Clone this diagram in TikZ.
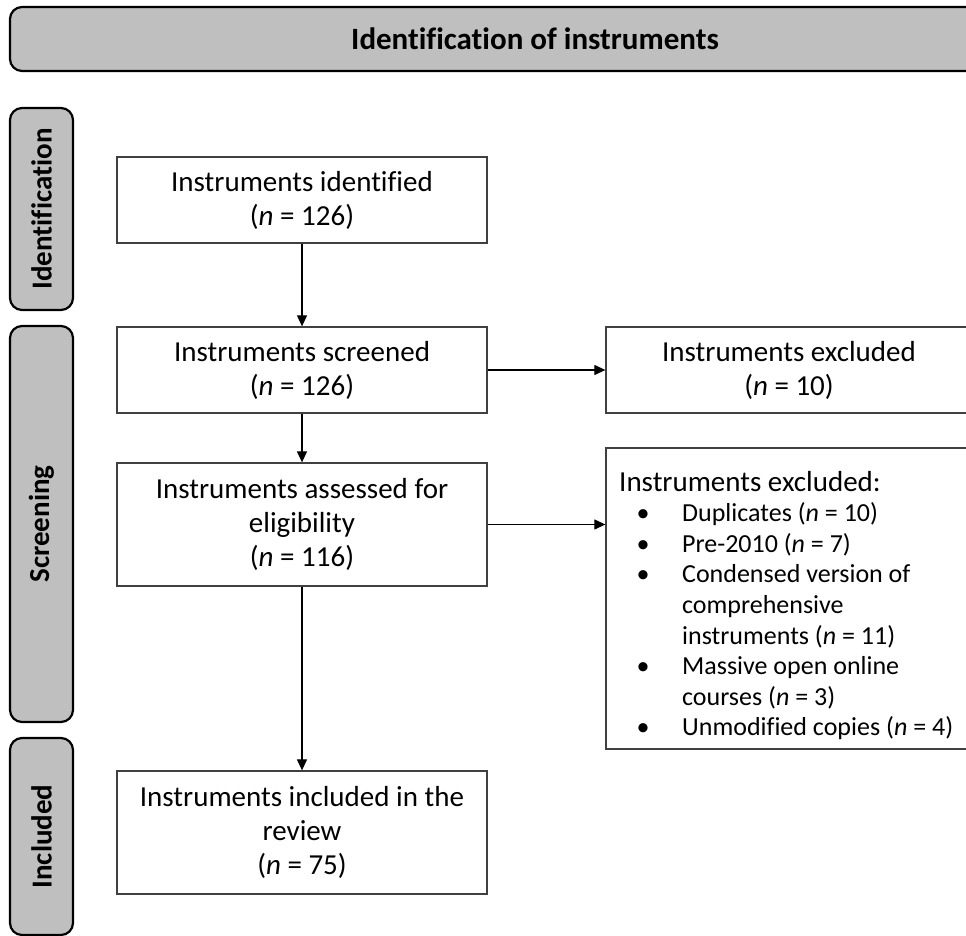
\documentclass[tikz,border=0pt]{standalone}
\usepackage{fontspec}
\setmainfont{Carlito}[Ligatures=NoCommon]
\usetikzlibrary{arrows.meta}
\definecolor{phasegray}{HTML}{BFBFBF}
\definecolor{edgegray}{HTML}{404040}
\tikzset{
  phasebox/.style={draw=black, line width=2.2pt, fill=phasegray, rounded corners=12pt, inner sep=0pt, font=\fontsize{29}{34}\selectfont\bfseries},
  stagebox/.style={draw=edgegray, line width=1.3pt, fill=white, inner sep=0pt, align=center, font=\fontsize{29}{34}\selectfont},
  flow/.style={draw=black, line width=1.2pt, -{Triangle[length=11pt,width=10pt]}},
}
\newcommand{\bulletitem}{\leavevmode\llap{\makebox[0pt]{•}\hspace{39pt}}}
\begin{document}
\begin{tikzpicture}[x=1pt, y=-1pt]
\useasboundingbox (0,0) rectangle (966,936);
\clip (0,0) rectangle (966,936);
% header and phase bars
\node[phasebox, minimum width=1050pt, minimum height=64pt, font=\fontsize{31}{36}\selectfont\bfseries] (hdr) at (535,39) {Identification of instruments};
\node[phasebox, minimum width=63pt, minimum height=202pt] (pid) at (41.5,209) {\rotatebox{90}{Identification}};
\node[phasebox, minimum width=63pt, minimum height=396pt] (pscr) at (41.5,524) {\rotatebox{90}{Screening}};
\node[phasebox, minimum width=63pt, minimum height=197pt] (pinc) at (41.5,836.5) {\rotatebox{90}{Included}};
% main boxes
\node[stagebox, minimum width=370pt, minimum height=86pt] (b1) at (302,200) {Instruments identified\\(\textit{n} = 126)};
\node[stagebox, minimum width=370pt, minimum height=86pt] (b2) at (302,370) {Instruments screened\\(\textit{n} = 126)};
\node[stagebox, minimum width=370pt, minimum height=123pt] (b3) at (302,524.5) {Instruments assessed for\\eligibility\\(\textit{n} = 116)};
\node[stagebox, minimum width=370pt, minimum height=123pt] (b4) at (302,832.5) {Instruments included in the\\review\\(\textit{n} = 75)};
% exclusion boxes
\node[stagebox, minimum width=366pt, minimum height=86pt] (ex1) at (789,370) {Instruments excluded\\(\textit{n} = 10)};
\node[stagebox, minimum width=366pt, minimum height=301pt] (ex2) at (789,598.5) {};
\node[anchor=base west, inner sep=0pt] (ex2list) at (619,491) {\parbox[t]{420pt}{\fontsize{29}{30.6}\selectfont\parskip=0pt\raggedright
Instruments excluded:\par
\fontsize{26}{30.6}\selectfont
\leftskip=63pt
\bulletitem Duplicates (\textit{n} = 10)\par
\bulletitem Pre-2010 (\textit{n} = 7)\par
\bulletitem Condensed version of\\comprehensive\\instruments (\textit{n} = 11)\par
\bulletitem Massive open online\\courses (\textit{n} = 3)\par
\bulletitem Unmodified copies (\textit{n} = 4)\par}};
% connectors
\draw[flow] (b1) -- (b2);
\draw[flow] (b2) -- (b3);
\draw[flow] (b3) -- (b4);
\draw[flow] (b2) -- (ex1);
\draw[flow] (b3.east) -- (b3.east -| ex2.west);
\end{tikzpicture}
\end{document}
